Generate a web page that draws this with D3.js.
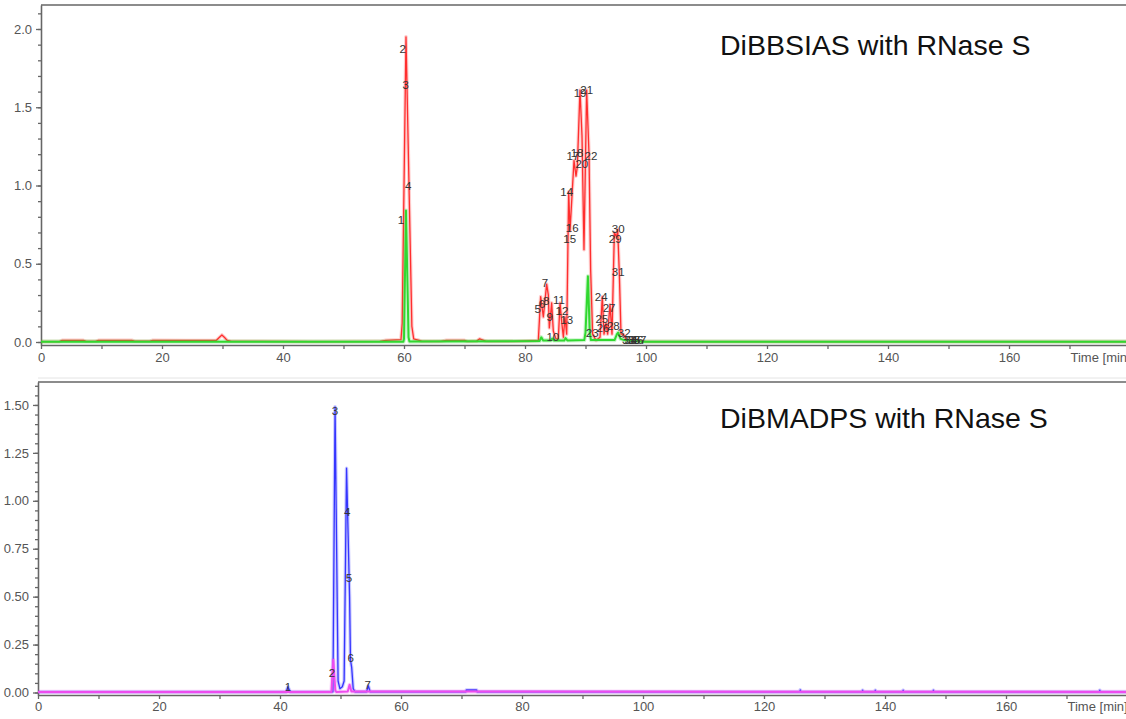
<!DOCTYPE html>
<html>
  <head>
    <meta charset="UTF-8">
    <script src="https://d3js.org/d3.v7.min.js"></script>
    <style>
      body { margin:0; background:#fff; }
      #svg { display:block; font-family:"Liberation Sans", Arial, Helvetica, sans-serif; }
      .axis path, .axis line { stroke:#666; stroke-width:1.3; }
      .axis text { fill:#555; font-size:13px; font-family:"Liberation Sans", Arial, sans-serif; }
      .peak { fill:#333; font-size:11.5px; text-anchor:middle; }
      .title { fill:#111; font-size:28.5px; }
    </style>
    <title>RNase S chromatograms</title>
  </head>
  <body>
    <svg id="svg" width="1126" height="719"></svg>
    <script>

// ---- top panel: DiBBSIAS with RNase S ----
const redT = [0, 3, 3.5, 7, 7.5, 9, 9.5, 15, 15.5, 18, 18.5, 24, 29, 29.5, 29.9, 30.3, 30.8, 31.5, 36, 45, 56, 57,
  59.5, 59.7, 60.33, 61.3, 61.6, 62.5, 63, 66, 67, 70, 70.5, 72, 72.5, 73.5, 74, 78,
  82.2, 82.59, 83.03, 83.58, 83.86, 84.02, 84.41, 84.68, 85.12, 85.51, 85.79, 86.06, 86.34, 86.61, 86.89,
  87.22, 87.44, 88.10, 88.43, 88.65, 89.09, 89.42, 89.75, 90.19, 90.58, 90.85, 91.18, 91.74, 92.40, 92.78,
  93.06, 93.39, 93.66, 94.05, 94.38, 94.77, 95.15, 95.32, 95.59, 95.87, 96.25, 96.80, 97.91, 99.01, 100, 180];
const redV = [0.003, 0.003, 0.011, 0.011, 0.004, 0.004, 0.011, 0.011, 0.005, 0.005, 0.011, 0.01, 0.011, 0.03, 0.045, 0.03, 0.01, 0.004, 0.004, 0.003, 0.004, 0.011,
  0.015, 0.12, 1.95, 0.1, 0.02, 0.011, 0.004, 0.004, 0.011, 0.011, 0.004, 0.006, 0.02, 0.006, 0.004, 0.004,
  0.01, 0.29, 0.16, 0.37, 0.3, 0.09, 0.25, 0.07, 0.02, 0.02, 0.25, 0.13, 0.03, 0.16, 0.05,
  0.96, 0.71, 1.16, 1.06, 1.12, 1.61, 1.32, 0.59, 1.61, 1.2, 0.46, 0.05, 0.01, 0.03, 0.29,
  0.05, 0.12, 0.05, 0.24, 0.05, 0.7, 0.67, 0.72, 0.44, 0.05, 0.05, 0.012, 0.015, 0.008, 0.003, 0.003];

const greenT = [0, 59.9, 60.0, 60.33, 60.75, 60.9, 82.4, 82.7, 83.0, 84.3, 84.5, 84.8, 86.5, 86.7, 87.0,
  89.8, 90.0, 90.4, 90.7, 90.9, 94.8, 95.2, 95.4, 95.8, 96.4, 98, 99.5, 180];
const greenV = [0.002, 0.002, 0.02, 0.84, 0.03, 0.003, 0.006, 0.03, 0.01, 0.01, 0.022, 0.01, 0.01, 0.025, 0.01,
  0.012, 0.06, 0.42, 0.06, 0.012, 0.012, 0.05, 0.06, 0.02, 0.012, 0.008, 0.002, 0.002];

const topPeakIds = ["1", "2", "3", "4", "5", "6", "8", "7", "9", "10", "11", "12", "13", "14", "16", "15", "17", "18",
  "19", "20", "21", "22", "23", "24", "25", "26", "27", "28", "29", "30", "31", "32", "33", "34", "35", "36", "37"];
const topPeakT = [59.5, 59.8, 60.3, 60.7, 82.1, 82.8, 83.5, 83.3, 84.1, 84.6, 85.6, 86.1, 86.9, 86.9, 87.8, 87.4, 87.9, 88.6,
  89.1, 89.4, 90.2, 90.9, 91.1, 92.6, 92.7, 92.9, 93.9, 94.6, 94.9, 95.4, 95.4, 96.4, 97.1, 97.5, 98.0, 98.5, 99.0];
const topPeakV = [0.78, 1.87, 1.64, 1.0, 0.21, 0.24, 0.26, 0.38, 0.16, 0.03, 0.27, 0.2, 0.14, 0.96, 0.73, 0.66, 1.19, 1.21,
  1.59, 1.14, 1.61, 1.19, 0.06, 0.29, 0.15, 0.09, 0.22, 0.1, 0.66, 0.72, 0.45, 0.06, 0.01, 0.01, 0.01, 0.01, 0.01];

// ---- bottom panel: DiBMADPS with RNase S ----
const blueT = [0, 41.0, 41.3, 41.7, 48.75, 49.1, 49.6, 49.9, 50.3, 50.6, 51.0, 51.5, 51.65, 51.85, 52.1, 52.4,
  54.3, 54.6, 54.9, 70.7, 70.8, 72.5, 72.6, 125.9, 126.0, 126.1, 136.2, 136.3, 136.4, 138.3, 138.4, 138.5,
  142.9, 143.0, 143.1, 147.9, 148.0, 148.1, 175.4, 175.5, 175.6, 180];
const blueV = [0.003, 0.003, 0.03, 0.003, 0.004, 1.49, 0.06, 0.02, 0.03, 0.06, 1.17, 0.5, 0.17, 0.13, 0.02, 0.004,
  0.004, 0.035, 0.004, 0.004, 0.013, 0.013, 0.004, 0.003, 0.014, 0.003, 0.003, 0.012, 0.003, 0.003, 0.012, 0.003,
  0.003, 0.012, 0.003, 0.003, 0.012, 0.003, 0.003, 0.012, 0.003, 0.003];

const magT = [0, 48.5, 48.8, 49.15, 49.3, 51.2, 51.5, 51.8, 180];
const magV = [0.003, 0.003, 0.17, 0.01, 0.003, 0.005, 0.04, 0.005, 0.003];

const botPeakIds = ["1", "2", "3", "4", "5", "6", "7"];
const botPeakT = [41.3, 48.6, 49.1, 51.1, 51.4, 51.7, 54.5];
const botPeakV = [0.03, 0.10, 1.47, 0.94, 0.60, 0.18, 0.04];

// tick labels
const xTickLabels = [0, 20, 40, 60, 80, 100, 120, 140, 160];
const topYTicks = [0, 0.5, 1.0, 1.5, 2.0];
const botYTicks = [0, 0.25, 0.5, 0.75, 1.0, 1.25, 1.5];

const svg = d3.select("svg#svg");
const W = 1126;
const pxPerMin = 6.05;

function drawPanel(p) {
  const x = d3.scaleLinear().domain([0, 180]).range([p.x0, p.x0 + 180 * pxPerMin]);
  const y = d3.scaleLinear().domain([p.yMin, p.yMax]).range([p.bottom, p.top]);
  const g = svg.append("g");

  // minor y ticks
  g.append("g").attr("class", "axis")
    .attr("transform", "translate(" + p.x0 + ",0)")
    .call(d3.axisLeft(y).tickValues(d3.range(0, p.yMax, p.yMinor)).tickSize(3).tickSizeOuter(0).tickFormat(""));
  // major y ticks
  g.append("g").attr("class", "axis")
    .attr("transform", "translate(" + p.x0 + ",0)")
    .call(d3.axisLeft(y).tickValues(p.yTicks).tickSize(5).tickSizeOuter(0).tickPadding(4).tickFormat(d3.format(p.yFmt)));

  // x axis
  g.append("g").attr("class", "axis")
    .attr("transform", "translate(0," + p.bottom + ")")
    .call(d3.axisBottom(x).tickValues(d3.range(0, 181, 10)).tickSize(4).tickSizeOuter(0).tickPadding(p.xPad)
      .tickFormat(d => xTickLabels.includes(d) ? d : ""));

  g.append("text")
    .attr("x", x(170) + 1)
    .attr("y", p.bottom + 4 + p.xPad)
    .attr("dy", "0.71em")
    .style("font-size", "13px")
    .attr("fill", "#555")
    .text("Time [min]");

  // top border
  g.append("line")
    .attr("x1", p.x0).attr("x2", W)
    .attr("y1", p.top).attr("y2", p.top)
    .attr("stroke", "#666").attr("stroke-width", 1.3);

  const line = d3.line().x(d => x(d[0])).y(d => y(d[1]));

  p.series.forEach(s => {
    const pts = d3.zip(s.t, s.v);
    g.append("path").datum(pts)
      .attr("d", line).attr("fill", "none")
      .attr("stroke", s.color).attr("stroke-opacity", 0.25)
      .attr("stroke-width", s.width + 2.2).attr("stroke-linejoin", "round");
    g.append("path").datum(pts)
      .attr("d", line).attr("fill", "none")
      .attr("stroke", s.color).attr("stroke-width", s.width)
      .attr("stroke-linejoin", "round");
  });

  g.selectAll("text.peak")
    .data(p.labels.ids)
    .enter()
    .append("text")
    .attr("class", "peak")
    .attr("x", (d, i) => x(p.labels.t[i]))
    .attr("y", (d, i) => y(p.labels.v[i]))
    .attr("dy", "0.35em")
    .text(d => d);

  g.append("text")
    .attr("class", "title")
    .attr("x", 720)
    .attr("y", p.titleY)
    .text(p.title);
}

// faint divider
svg.append("line")
  .attr("x1", 38).attr("x2", W).attr("y1", 378).attr("y2", 378)
  .attr("stroke", "#e4e4e4");

drawPanel({
  x0: 41, top: 5, bottom: 345,
  yMin: -3 / 156.5, yMax: 337 / 156.5,
  yTicks: topYTicks, yMinor: 0.1, yFmt: ".1f", xPad: 4,
  series: [
    { t: redT, v: redV, color: "#ff2e2e", width: 1.3 },
    { t: greenT, v: greenV, color: "#30d830", width: 2 }
  ],
  labels: { ids: topPeakIds, t: topPeakT, v: topPeakV },
  title: "DiBBSIAS with RNase S", titleY: 55
});

drawPanel({
  x0: 38, top: 382, bottom: 695,
  yMin: -2.5 / 191.7, yMax: 310.5 / 191.7,
  yTicks: botYTicks, yMinor: 0.05, yFmt: ".2f", xPad: 3,
  series: [
    { t: blueT, v: blueV, color: "#3535ff", width: 1.3 },
    { t: magT, v: magV, color: "#ee4cee", width: 2 }
  ],
  labels: { ids: botPeakIds, t: botPeakT, v: botPeakV },
  title: "DiBMADPS with RNase S", titleY: 428
});

    </script>
  </body>
</html>
